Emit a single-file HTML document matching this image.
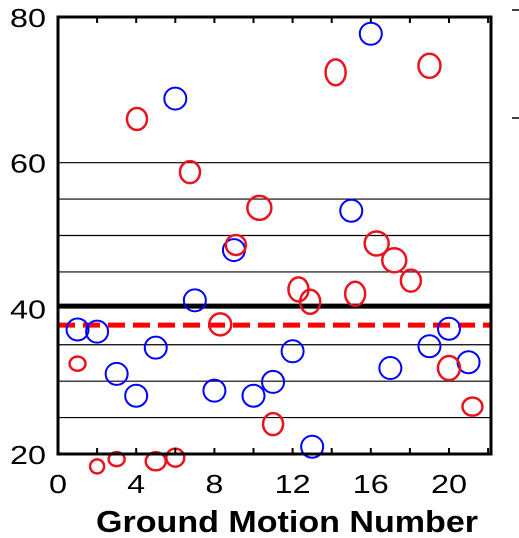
<!DOCTYPE html>
<html><head><meta charset="utf-8"><style>
html,body{margin:0;padding:0;background:#fff;width:519px;height:538px;overflow:hidden}
svg text{font-family:"Liberation Sans",Arial,sans-serif}
</style></head><body>
<svg id="chart" width="519" height="538" xmlns="http://www.w3.org/2000/svg"></svg>
<script>
const blueX=[1,2,3,4,5,6,7,8,9,10,11,12,13,15,16,17,19,20,21];
const blueY=[37.1,36.8,31.0,28.0,34.6,68.8,41.1,28.7,48.0,28.0,29.9,34.1,21.0,53.4,77.7,31.8,34.8,37.2,32.6];
const redX=[1,2,3,4.04,5,6,6.75,8.3,9.1,10.3,11,12.3,12.9,14.2,15.2,16.3,17.2,18.05,19,20,21.2];
const redY=[32.4,18.3,19.3,66.0,19.0,19.5,58.7,37.8,48.7,53.8,24.1,42.6,40.9,72.4,42.0,48.9,46.6,43.8,73.3,31.8,26.5];
const redRx=[8,7,8,10,10,9,10,11,10,12,10,10,10,10,10,12,12,10,11,11,10];
const redRy=[7,7,7,11,9,9,11,11,10,12,11,12,12,13,12,12,12,11,12,12,9];
const xTicks=[0,4,8,12,16,20];
const yTicks=[20,40,60,80];
const gridY=[25,30,35,45,50,55,60];
const meanBlack=40.3, meanRed=37.7;
const L=58,R=491,T=17,B=454;
const sx=v=>L+v*(449-58)/20;
const sy=v=>B-(v-20)*(B-T)/60;
const svg=document.getElementById('chart');
const NS='http://www.w3.org/2000/svg';
function mk(tag,attrs,parent){const e=document.createElementNS(NS,tag);for(const k in attrs)e.setAttribute(k,attrs[k]);(parent||svg).appendChild(e);return e;}
gridY.forEach(g=>{const e=mk('line',{x1:L,x2:R,y1:sy(g),y2:sy(g),stroke:'#000','stroke-width':1.2});

});
let e=mk('line',{x1:L,x2:R,y1:sy(meanBlack),y2:sy(meanBlack),stroke:'#000','stroke-width':5});


e=mk('line',{x1:L,x2:R,y1:sy(meanRed),y2:sy(meanRed),stroke:'#f00','stroke-width':5,'stroke-dasharray':'17,8'});


blueX.forEach((x,i)=>{const c=mk('circle',{cx:sx(x),cy:sy(blueY[i]),r:11,fill:'none',stroke:'#00f','stroke-width':2});

});
redX.forEach((x,i)=>{const c=mk('ellipse',{cx:sx(x),cy:sy(redY[i]),rx:redRx[i],ry:redRy[i],fill:'none',stroke:'#e8141e','stroke-width':2.5});

});
e=mk('rect',{x:L,y:T,width:R-L,height:B-T,fill:'none',stroke:'#000','stroke-width':3});


for(let v=2;v<=22;v+=2){mk('line',{x1:sx(v),x2:sx(v),y1:T,y2:T+6,stroke:'#000','stroke-width':2});mk('line',{x1:sx(v),x2:sx(v),y1:B,y2:B-6,stroke:'#000','stroke-width':2});}
xTicks.forEach(v=>{const s=String(v);const t=mk('text',{x:sx(v),y:493,'font-size':26,'text-anchor':'middle',fill:'#000',textLength:s.length*18,lengthAdjust:'spacingAndGlyphs'});t.textContent=s;

});
yTicks.forEach(v=>{const s=String(v);const t=mk('text',{x:10,y:sy(v)+10,'font-size':26,'text-anchor':'start',fill:'#000',textLength:s.length*18,lengthAdjust:'spacingAndGlyphs'});t.textContent=s;

});
const xt=mk('text',{x:96,y:532,'font-size':31,'font-weight':'bold','text-anchor':'start',fill:'#000',textLength:382,lengthAdjust:'spacingAndGlyphs'});xt.textContent='Ground Motion Number';


mk('line',{x1:512,x2:519,y1:10,y2:10,stroke:'#000','stroke-width':1.5});
mk('line',{x1:512,x2:519,y1:118,y2:118,stroke:'#000','stroke-width':1.5});
</script>
</body></html>
